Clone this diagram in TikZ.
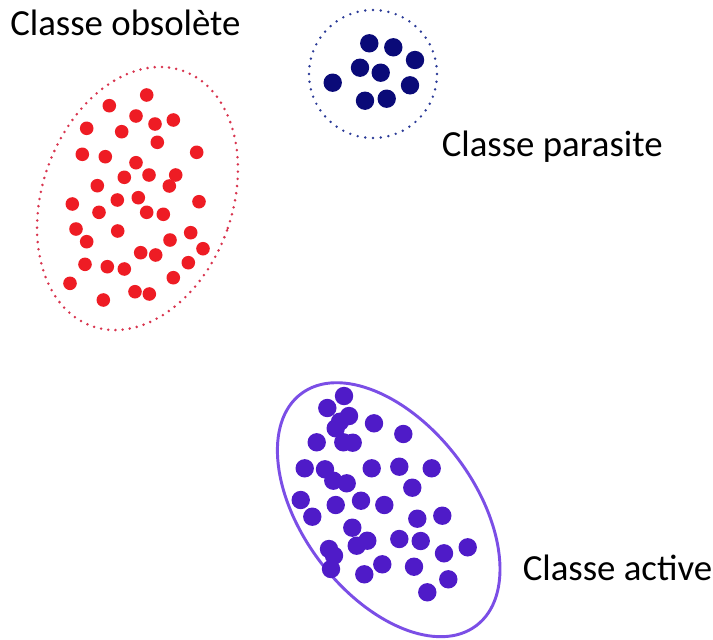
\documentclass[tikz,border=0pt]{standalone}
\usepackage{fontspec}
\setmainfont{Carlito}
\definecolor{dotred}{HTML}{EE1C24}
\definecolor{rimred}{HTML}{D8344E}
\definecolor{dotnavy}{HTML}{0A0A78}
\definecolor{rimnavy}{HTML}{2B3B97}
\definecolor{dotviolet}{HTML}{4F1BC8}
\definecolor{rimviolet}{HTML}{7B4EE6}

\begin{document}
\begin{tikzpicture}[x=0.75pt,y=-0.75pt,
  classname/.style={anchor=base west,inner sep=0pt,font=\fontsize{27.6}{33}\selectfont}]

\useasboundingbox (0,0) rectangle (713,639);

\def\rred{6.8}
\def\rbig{9.2}

% obsolete class
\draw[color=rimred,line width=2.1pt,line cap=round,dash pattern=on 0pt off 5.4pt,
  rotate around={-19.7:(137.5,198.5)}] (137.5,198.5) ellipse [x radius=95,y radius=135.5];
\foreach \x/\y in {146.7/95,109.3/105.7,136/116,155/124,173.3/120,86.7/128.3,121.7/131.7,
  157.3/142.3,82.3/154.3,105.3/156.7,196.7/152.3,136/162.7,124.3/177.3,149/175,175.7/175,
  169.3/186,97.3/185.7,72.3/204,117.3/200,138.3/197.7,199/201.7,99/212.3,146.7/212.3,
  163.3/214.3,76/229,117.7/231,86.7/241.7,170/240,190.7/232.7,203/248.7,140.7/252.7,
  155.7/255,85/264.3,107.3/266.7,124.3/269,188.3/262.7,70/283.3,173.3/277.7,135/291.7,
  149.3/294,103.3/300}
  \fill[color=dotred] (\x,\y) circle[radius=\rred];

% parasite class
\draw[color=rimnavy,line width=2pt,line cap=round,dash pattern=on 0pt off 5.8pt]
  (373,74) circle[radius=64];
\foreach \x/\y in {369.3/43.3,393.3/47.3,415/60,360/67.7,380.7/72.7,332.7/82.7,410/85.3,
  365/100.7,386.7/98.7}
  \fill[color=dotnavy] (\x,\y) circle[radius=\rbig];

% active class
\draw[color=rimviolet,line width=2.2pt,rotate around={37.1:(388.7,509.7)}]
  (388.7,509.7) ellipse [x radius=86,y radius=145.3];
\foreach \x/\y in {344/396,327.3/408,349/416,340/421.7,335.7/428.3,374/423.3,403.3/434,
  316.7/442.3,343.3/442.3,352.7/442.7,304.7/468.3,325/469.3,333.3/480.7,346.7/483.3,
  371.7/468.3,399.3/466.7,431.7/468.3,412.3/487.7,300.7/500,335.7/505,361/500.7,384.3/505,
  312.3/516.7,417.3/518.7,442.3/515.7,352.3/527.7,367.3/540.7,356.7/545.7,399.3/539,
  420.7/541,329/549,334/555.7,331/569,382.3/564.3,364.3/574.3,414/566.7,444/553.3,
  467.7/547.3,448.3/579.3,427.3/592.3}
  \fill[color=dotviolet] (\x,\y) circle[radius=\rbig];

\node[classname] (obsolete) at (10,35) {Classe obsolète};
\node[classname] (parasite) at (441.5,156) {Classe parasite};
\node[classname] (active) at (522.5,580) {Classe active};

\end{tikzpicture}
\end{document}
